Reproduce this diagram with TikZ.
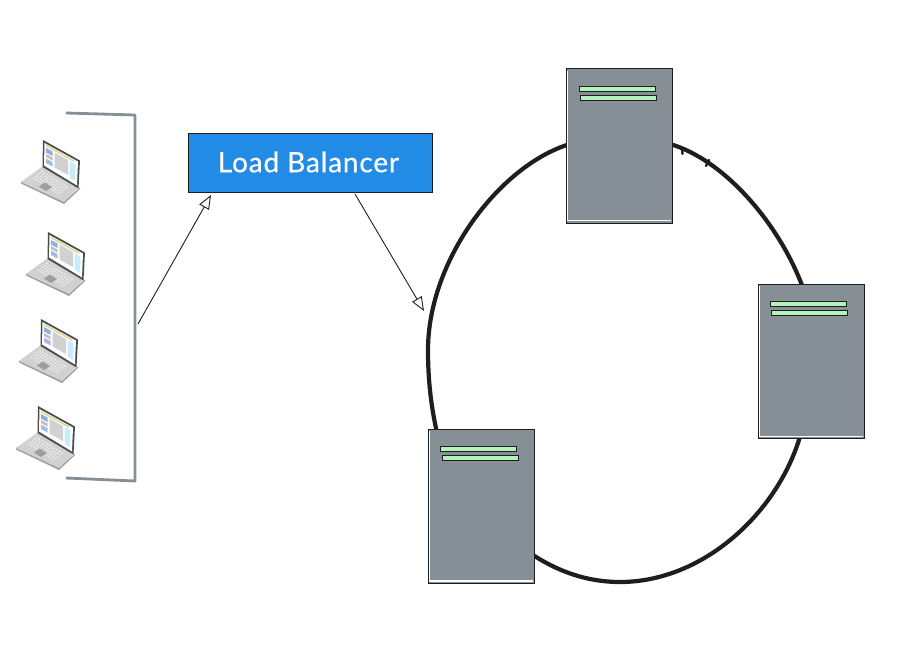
\documentclass[tikz,border=0pt]{standalone}
\usepackage{fontspec}
\setmainfont{Lato}
\usetikzlibrary{arrows.meta}
\definecolor{srvgray}{HTML}{868E96}
\definecolor{barfill}{HTML}{B2F2BB}
\definecolor{lbblue}{HTML}{228BE6}
\definecolor{ink}{HTML}{1E1E1E}
\tikzset{
  x=1pt,y=-1pt,
  serverbox/.style={draw=ink,line width=1pt,fill=srvgray,minimum width=106pt,minimum height=154pt,anchor=north west,inner sep=0pt,outer sep=0pt},
  barbox/.style={draw=ink,line width=1pt,fill=barfill,minimum width=76pt,minimum height=5pt,anchor=north west,inner sep=0pt,outer sep=0pt},
  ringline/.style={draw=ink,line width=4.2pt,line cap=butt,line join=round},
  bracketline/.style={draw=srvgray,line width=2.8pt,line join=round},
  flowarrow/.style={draw=ink,line width=0.9pt,-{Triangle[open,fill=white,length=14pt,width=11pt]}},
  highlight/.style={draw=white,line width=1.2pt},
  laptop/.pic={
    % base
    \fill[black!38] (-29,13.5) -- (14,34) -- (30,19) -- (30,17.5) -- (14,31.5) -- (-29,11.5) -- cycle;
    \fill[black!18] (-29,12) -- (-7,-4) -- (28,18) -- (14,32) -- cycle;
    % keys
    \foreach \i in {0,...,10}{\foreach \j in {0,...,4}{
      \fill[white!85!black!18] ({-8+\i*2.5-\j*2.1},{1.5+\i*1.55+\j*1.7}) circle[radius=0.8];
    }}
    \fill[black!38] (-11,16.5) -- (-5,12.5) -- (2,17) -- (-4,21) -- cycle;
    % screen
    \fill[ink!80] (-7,-30) -- (30,-9.5) -- (28.5,18.5) -- (-7.5,-3) -- cycle;
    \fill[white] (-5.5,-27) -- (28,-8.5) -- (27,15.5) -- (-6,-4.5) -- cycle;
    \fill[olive!30] (-4,-25.5) -- (24,-10) -- (24,-8) -- (-4,-23.5) -- cycle;
    \fill[cyan!50!blue!45] (-4,-22) -- (2.5,-18.5) -- (2.5,-14) -- (-4,-17.5) -- cycle;
    \fill[gray!50] (-4,-16) -- (2.5,-12.5) -- (2.5,-9.5) -- (-4,-13) -- cycle;
    \fill[cyan!45!blue!35] (-4,-11.5) -- (2.5,-8) -- (2.5,-3.5) -- (-4,-7) -- cycle;
    \fill[black!18] (4.5,-17.5) -- (18,-10) -- (18,5) -- (4.5,-2.5) -- cycle;
    \fill[cyan!22] (19.5,-9) -- (25.5,-5.5) -- (25,11) -- (19.5,7.5) -- cycle;
  }
}
\begin{document}
\begin{tikzpicture}
\useasboundingbox (0,0) rectangle (918,666);
% named free ends
\coordinate (brTopEnd) at (66,113);
\coordinate (brTopCorner) at (135,115);
\coordinate (brBotCorner) at (135,481);
\coordinate (brBotEnd) at (66,478);
\coordinate (brOut) at (138,324);
\coordinate (lbIn) at (211,195);
\coordinate (lbOut) at (355,194);
\coordinate (ringIn) at (424,311);
% ring (beneath the servers)
\draw[ringline] (570,144) .. controls (500,165) and (428,260) .. (428,350) .. controls (428,385) and (432,410) .. (437,433);
\draw[ringline] (670,144) .. controls (725,160) and (780,225) .. (803,288);
\draw[ringline] (801,433) .. controls (780,510) and (705,582) .. (620,582) .. controls (585,582) and (555,570) .. (530,553);
\draw[ink,line width=2.4pt,line cap=round] (682,148) -- (682.5,154);
\draw[ink,line width=2.4pt,line cap=round] (709,160) -- (706,166);
% servers
\node[serverbox] (srvTop) at (566,69) {};
\node[serverbox] (srvRight) at (758,284) {};
\node[serverbox] (srvLeft) at (428,429) {};
\draw[highlight] (567.5,71) -- (567.5,220.5) -- (671,220.5);
\draw[highlight] (759.5,286) -- (759.5,436.5) -- (863,436.5);
\draw[highlight] (429.5,431) -- (429.5,581) -- (533,581);
\node[barbox] (barTopA) at (579,86.5) {};
\node[barbox] (barTopB) at (580,95.5) {};
\node[barbox] (barRightA) at (770,301.5) {};
\node[barbox] (barRightB) at (771.5,310.5) {};
\node[barbox] (barLeftA) at (440,446.5) {};
\node[barbox] (barLeftB) at (442,455.5) {};
% load balancer
\node[draw=ink,line width=1pt,fill=lbblue,minimum width=244pt,minimum height=58pt,anchor=north west,inner sep=0pt,outer sep=0pt] (lb) at (188,134) {};
\node[text=white,inner sep=0pt,font=\fontsize{28}{32}\selectfont\addfontfeature{LetterSpace=3,FakeBold=0.6}] (lbText) at (308.5,162) {Load Balancer};
% bracket
\draw[bracketline] (brTopEnd) -- (brTopCorner) -- (brBotCorner) -- (brBotEnd);
% arrows
\draw[flowarrow] (brOut) -- (lbIn);
\draw[flowarrow] (lbOut) -- (ringIn);
% laptops
\pic (lapA) at (50,170) {laptop};
\pic (lapB) at (55,262) {laptop};
\pic (lapC) at (48,349) {laptop};
\pic (lapD) at (45,436) {laptop};
\end{tikzpicture}
\end{document}
